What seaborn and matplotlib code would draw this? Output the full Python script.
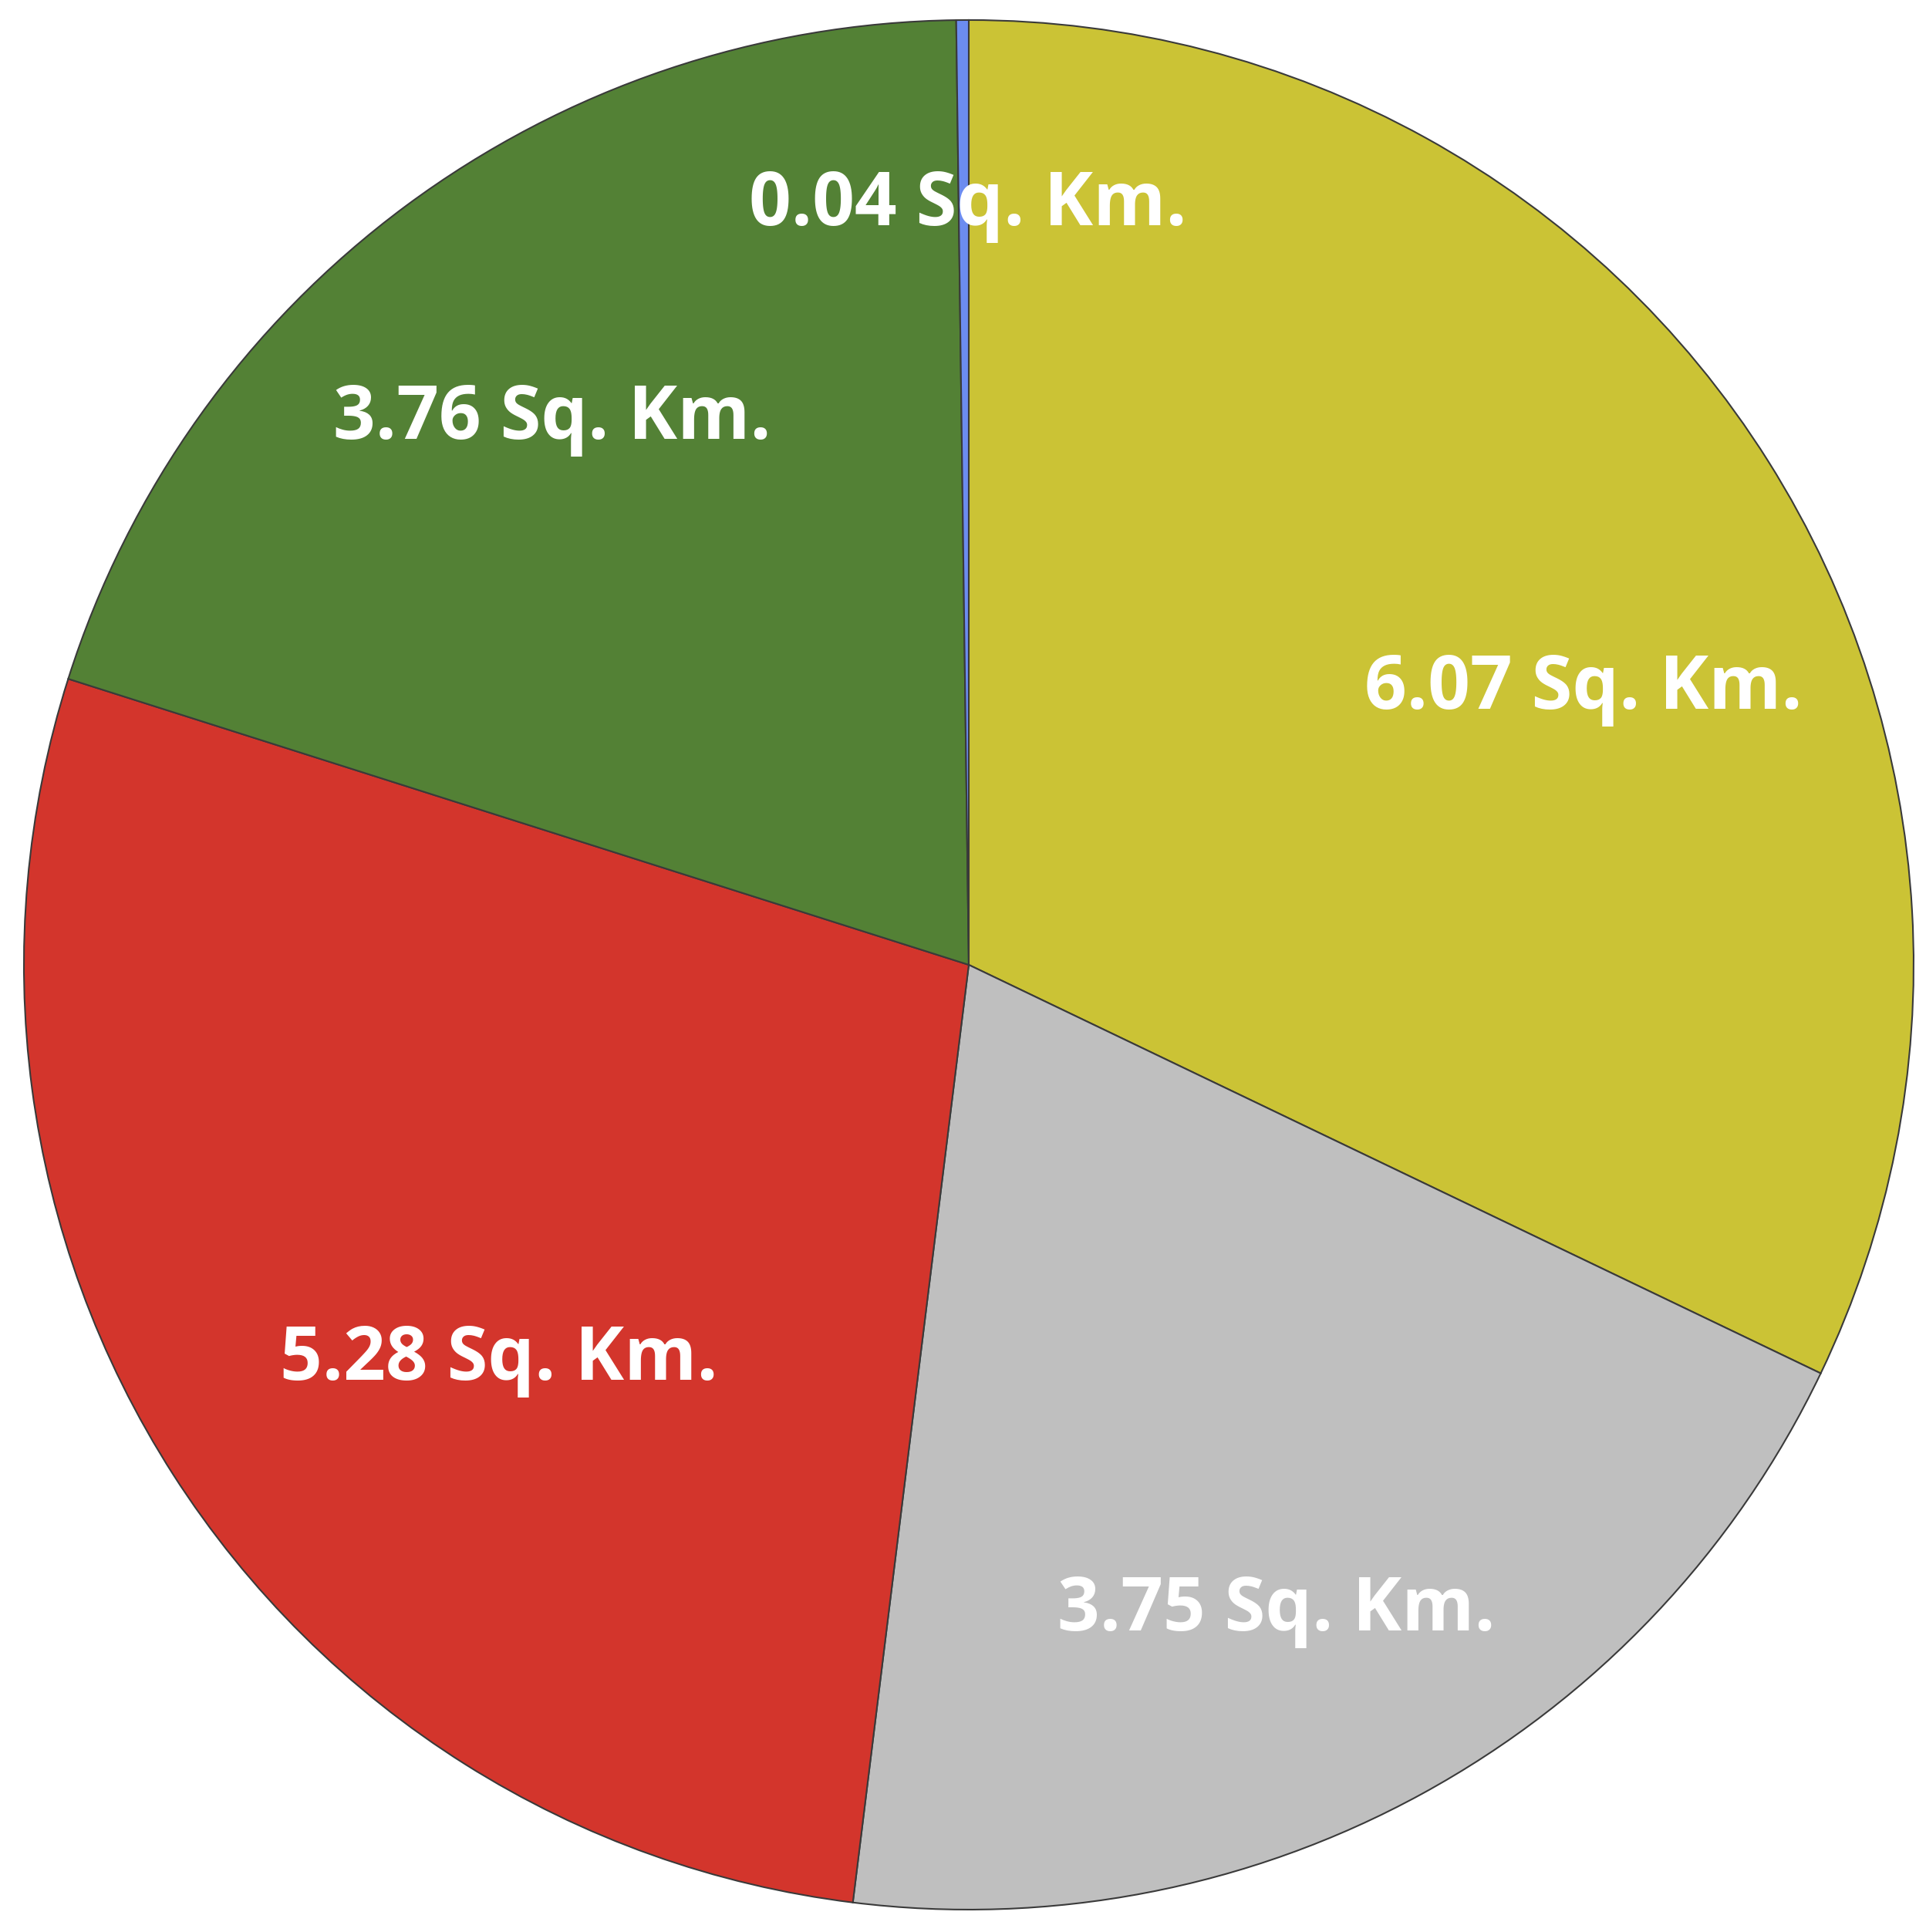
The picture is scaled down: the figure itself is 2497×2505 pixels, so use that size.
import numpy as np
import seaborn as sns
import matplotlib.pyplot as plt

# slice data, clockwise from 12 o'clock
areas = [6.07, 3.75, 5.28, 3.76, 0.04]
labels = ['6.07 Sq. Km.', '3.75 Sq. Km.', '5.28 Sq. Km.', '3.76 Sq. Km.', '0.04 Sq. Km.']
colors = ['#CBC335', '#BFBFBF', '#D3352C', '#538135', '#6C8CF0']

# label placement (fraction of radius, angle tweak in degrees) to mimic best-fit labels
label_r = [0.713, 0.757, 0.650, 0.727, 0.804]
label_dang = [-8.0, -3.2, 7.4, 0.8, -0.3]

sns.set_theme(style='white')
plt.rcParams['font.family'] = ['Open Sans', 'DejaVu Sans']

fig = plt.figure(figsize=(24.97, 25.05), dpi=100)
ax = fig.add_axes([0, 0, 1, 1])

wedges, _ = ax.pie(areas, colors=colors, startangle=90, counterclock=False,
                   wedgeprops={'edgecolor': '#3a3a3a', 'linewidth': 1.5})

for w, lab, r, da in zip(wedges, labels, label_r, label_dang):
    mid = np.deg2rad((w.theta1 + w.theta2) / 2 + da)
    ax.text(r * np.cos(mid), r * np.sin(mid), lab, ha='center', va='center',
            color='white', fontsize=69, fontweight='bold')

ax.set_xlim(-1.0253, 1.0131)
ax.set_ylim(-1.0237, 1.0212)
ax.set_aspect('auto')
ax.axis('off')

fig.savefig('out.png', dpi=100)
